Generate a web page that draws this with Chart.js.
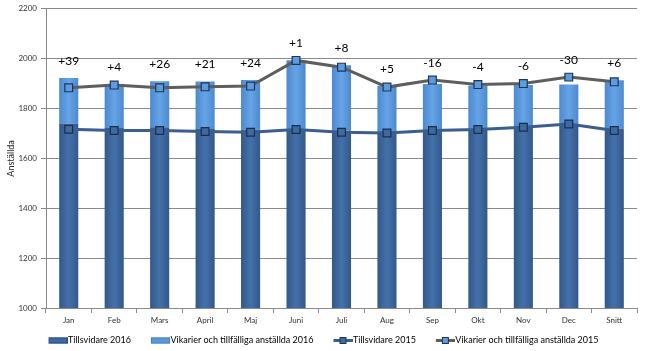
<!DOCTYPE html>
<html>
<head>
<meta charset="utf-8">
<script src="https://cdn.jsdelivr.net/npm/chart.js@4"></script>
<style>
  html, body { margin: 0; padding: 0; background: #fff; }
  #wrap { width: 656px; height: 351px; }
</style>
</head>
<body>
<div id="wrap"><canvas id="c" width="656" height="351"></canvas></div>
<script>
const MANADER = ['Jan', 'Feb', 'Mars', 'April', 'Maj', 'Juni', 'Juli', 'Aug', 'Sep', 'Okt', 'Nov', 'Dec', 'Snitt']

// 2016 (staplar)
const tillsvidare2016 = [1740, 1722, 1725, 1718, 1715, 1720, 1712, 1705, 1712, 1718, 1725, 1730, 1720]
const vikarier2016 = [182, 176, 184, 190, 199, 274, 262, 186, 186, 174, 169, 166, 193]

// 2015 (linjer)
const tillsvidare2015 = [1717, 1712, 1712, 1708, 1705, 1716, 1705, 1702, 1712, 1716, 1725, 1738, 1712]
const vikarier2015 = [166, 182, 171, 179, 185, 277, 261, 184, 202, 180, 175, 188, 195]

// Förändring totalt mot 2015
const diffEtiketter = ['+39', '+4', '+26', '+21', '+24', '+1', '+8', '+5', '-16', '-4', '-6', '-30', '+6']

const FONT = 'Lato, "Liberation Sans", sans-serif'
const BAR_PCT = 0.42

// Liten canvas som legend-symbol (symbolen ligger längst till höger, tomrum till vänster)
function symbol(typ, fill, stroke) {
  const cv = document.createElement('canvas')
  cv.width = 33
  cv.height = 9
  const ctx = cv.getContext('2d')
  const x0 = 14
  if (typ === 'bar') {
    ctx.fillStyle = fill
    ctx.fillRect(x0, 1.5, 19, 6)
    ctx.strokeStyle = stroke
    ctx.lineWidth = 1
    ctx.strokeRect(x0 + 0.5, 2, 18, 5)
  } else {
    ctx.strokeStyle = stroke
    ctx.lineWidth = 3
    ctx.beginPath()
    ctx.moveTo(x0, 4.5)
    ctx.lineTo(x0 + 19, 4.5)
    ctx.stroke()
    ctx.fillStyle = fill
    ctx.fillRect(x0 + 6, 1, 7, 7)
    ctx.strokeStyle = '#1f3350'
    ctx.lineWidth = 1
    ctx.strokeRect(x0 + 6.5, 1.5, 6, 6)
  }
  return cv
}

// Horisontell gradient per stapel
function barGradient(kant, mitt) {
  return ctx => {
    const chart = ctx.chart
    const x = chart.scales.x
    if (!x || ctx.dataIndex === undefined) return mitt
    const cx = x.getPixelForValue(ctx.dataIndex)
    const half = x.width / MANADER.length * BAR_PCT / 2
    const g = chart.ctx.createLinearGradient(cx - half, 0, cx + half, 0)
    g.addColorStop(0, kant)
    g.addColorStop(0.5, mitt)
    g.addColorStop(1, kant)
    return g
  }
}

const diffPlugin = {
  id: 'diffPlugin',
  beforeUpdate(chart) {
    // legenden tätare mot x-axeln
    const lg = chart.legend
    if (lg && !lg._patched) {
      const fit = lg.fit
      lg.fit = function () {
        fit.call(this)
        this.height = 25
      }
      lg._patched = true
    }
  },
  afterDatasetsDraw(chart) {
    const ctx = chart.ctx
    const barTop = chart.getDatasetMeta(1).data
    const lineTop = chart.getDatasetMeta(3).data
    ctx.save()
    ctx.font = '12px ' + FONT
    ctx.fillStyle = '#000'
    ctx.textAlign = 'center'
    ctx.textBaseline = 'middle'
    diffEtiketter.forEach((txt, i) => {
      const y = Math.min(barTop[i].y, lineTop[i].y) - 17
      ctx.fillText(txt, barTop[i].x, y)
    })
    ctx.restore()
  }
}

new Chart(document.getElementById('c'), {
  data: {
    labels: MANADER,
    datasets: [
      {
        type: 'bar', label: 'Tillsvidare 2016', data: tillsvidare2016, stack: 's2016', order: 2,
        backgroundColor: barGradient('#33588a', '#4471ab'), borderWidth: 0,
        barPercentage: BAR_PCT, categoryPercentage: 1,
      },
      {
        type: 'bar', label: 'Vikarier och tillfälliga anställda 2016', data: vikarier2016, stack: 's2016', order: 2,
        backgroundColor: barGradient('#4d89cf', '#65a4e6'), borderWidth: 0,
        barPercentage: BAR_PCT, categoryPercentage: 1,
      },
      {
        type: 'line', label: 'Tillsvidare 2015', data: tillsvidare2015, stack: 's2015', order: 1,
        borderColor: '#3a5f8f', borderWidth: 3, tension: 0,
        pointStyle: 'rect', pointRadius: 5.5, pointBackgroundColor: '#3f6aa0', pointBorderColor: '#1a2f4c', pointBorderWidth: 1.2,
      },
      {
        type: 'line', label: 'Vikarier och tillfälliga anställda 2015', data: vikarier2015, stack: 's2015', order: 1,
        borderColor: '#5e5e5e', borderWidth: 3, tension: 0,
        pointStyle: 'rect', pointRadius: 5.5, pointBackgroundColor: '#5d9ddf', pointBorderColor: '#1c3556', pointBorderWidth: 1.2,
      },
    ],
  },
  options: {
    animation: false,
    responsive: false,
    layout: { padding: { left: 0, right: 19, top: 5, bottom: 0 } },
    plugins: {
      tooltip: { enabled: false },
      legend: {
        position: 'bottom',
        labels: {
          usePointStyle: true,
          pointStyleWidth: 25,
          font: { family: FONT, size: 9 },
          color: '#333',
          padding: 10,
          boxWidth: 19,
          boxHeight: 9,
          generateLabels(chart) {
            const syms = [
              symbol('bar', '#3e6aa2', '#2d4f7c'),
              symbol('bar', '#5a98dc', '#4a80bd'),
              symbol('line', '#3f6aa0', '#3a5f8f'),
              symbol('line', '#5d9ddf', '#5e5e5e'),
            ]
            return chart.data.datasets.map((ds, i) => ({
              text: ds.label, pointStyle: syms[i], datasetIndex: i,
              fillStyle: 'transparent', strokeStyle: 'transparent', lineWidth: 0, hidden: false,
            }))
          },
        },
      },
    },
    scales: {
      x: {
        stacked: true,
        grid: { offset: true, drawOnChartArea: false, drawTicks: true, tickLength: 5, color: '#8a8a8a' },
        border: { color: '#8a8a8a' },
        ticks: { font: { family: FONT, size: 8 }, color: '#333', padding: 3 },
        afterFit(scale) { scale.height = 18 },
      },
      y: {
        stacked: true,
        min: 1000, max: 2200,
        ticks: { stepSize: 200, font: { family: FONT, size: 8 }, color: '#333', padding: 4, callback: v => String(v) },
        grid: { color: '#8a8a8a', tickLength: 5 },
        border: { color: '#8a8a8a' },
        title: { display: true, text: 'Anställda', font: { family: FONT, size: 9 }, color: '#222', padding: { top: 6, bottom: 0 } },
        afterFit(scale) { scale.width = 46 },
      },
    },
  },
  plugins: [diffPlugin],
})
</script>
</body>
</html>
